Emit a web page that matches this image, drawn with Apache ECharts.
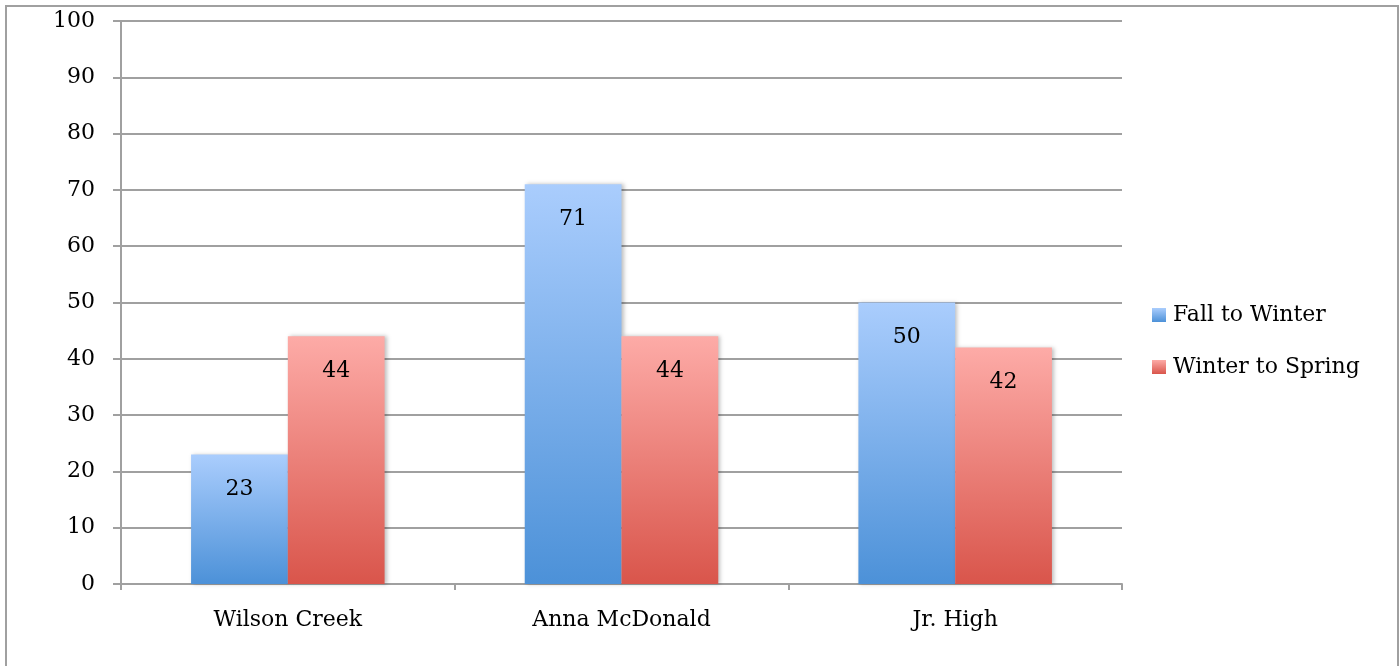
<!DOCTYPE html>
<html><head><meta charset="utf-8">
<script src="https://cdn.jsdelivr.net/npm/echarts@6/dist/echarts.min.js"></script>
<style>
html,body{margin:0;padding:0;background:#fff;}
#frame{position:absolute;left:5px;top:5px;width:1390px;height:680px;border:2px solid #a0a0a0;}
#c{position:absolute;left:0;top:0;width:1400px;height:666px;}
</style></head>
<body><div id="frame"></div><div id="c"></div>
<script>
const categories = ['Wilson Creek', 'Anna McDonald', 'Jr. High'];
const fallToWinter = [23, 71, 50];
const winterToSpring = [44, 44, 42];
const seriesNames = ['Fall to Winter', 'Winter to Spring'];

const FONT = 'DejaVu Serif';
const FS = 22;
const blueGrad = new echarts.graphic.LinearGradient(0,0,0,1,[{offset:0,color:'#aacdfd'},{offset:1,color:'#4c91d8'}]);
const redGrad = new echarts.graphic.LinearGradient(0,0,0,1,[{offset:0,color:'#fdaba7'},{offset:1,color:'#d9554b'}]);
const chart = echarts.init(document.getElementById('c'));
const lbl = {show:true, position:'insideTop', distance:24, color:'#000', fontFamily:FONT, fontSize:FS};
chart.setOption({
  animation:false,
  textStyle:{fontFamily:FONT},
  grid:{left:121, top:21, width:1001, height:563, containLabel:false},
  legend:{
    orient:'vertical', left:1147, top:299, itemWidth:14, itemHeight:14, itemGap:30,
    icon:'rect',
    textStyle:{fontFamily:FONT, fontSize:FS, color:'#000', padding:[0,0,0,2]},
    data:[{name:seriesNames[0], itemStyle:{color:blueGrad}},{name:seriesNames[1], itemStyle:{color:redGrad}}]
  },
  xAxis:{
    type:'category', data:categories,
    axisLine:{lineStyle:{color:'#a0a0a0', width:2}},
    axisTick:{show:true, length:6, lineStyle:{color:'#a0a0a0', width:2}},
    axisLabel:{color:'#000', fontFamily:FONT, fontSize:FS, margin:25}
  },
  yAxis:{
    type:'value', min:0, max:100, interval:10,
    axisLine:{show:true, lineStyle:{color:'#a0a0a0', width:2}},
    axisTick:{show:true, length:8, lineStyle:{color:'#a0a0a0', width:2}},
    axisLabel:{color:'#000', fontFamily:FONT, fontSize:FS, margin:26},
    splitLine:{lineStyle:{color:'#a0a0a0', width:2}}
  },
  series:[
    {name:seriesNames[0], type:'bar', data:fallToWinter, barWidth:'29%', barGap:'0%',
     itemStyle:{color:blueGrad, shadowColor:'rgba(0,0,0,0.25)', shadowBlur:4, shadowOffsetX:2}, label:lbl},
    {name:seriesNames[1], type:'bar', data:winterToSpring, barWidth:'29%', barGap:'0%',
     itemStyle:{color:redGrad, shadowColor:'rgba(0,0,0,0.25)', shadowBlur:4, shadowOffsetX:2}, label:lbl}
  ]
});
</script></body></html>
